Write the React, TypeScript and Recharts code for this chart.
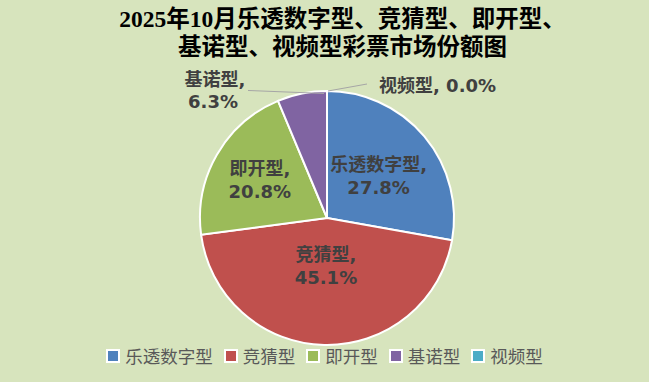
import React from 'react';
import { PieChart, Pie, Cell } from 'recharts';

// 2025年10月 各类型彩票市场份额
const categories = ['乐透数字型', '竞猜型', '即开型', '基诺型', '视频型'];
const shares = [27.8, 45.1, 20.8, 6.3, 0.0];

const COLORS = ['#4f81bd', '#c0504d', '#9bbb59', '#8064a2', '#4bacc6'];
const BG = '#d7e4bd';
const LABEL_FONT = '"DejaVu Sans", "Noto Sans CJK SC", sans-serif';

const data = categories.map((name, i) => ({ name, value: shares[i] }));

// inside labels: fraction of radius; outside ones use a leader line
const INSIDE_R = [0.53, 0.37, 0.61];

const RADIAN = Math.PI / 180;

const renderLabel = (props: any) => {
  const { cx, cy, midAngle, outerRadius, index } = props;
  const name = categories[index];
  const pct = shares[index].toFixed(1) + '%';
  const style = { fontFamily: LABEL_FONT, fontSize: 18, fontWeight: 700, fill: '#404040' };

  if (index < INSIDE_R.length) {
    const r = outerRadius * INSIDE_R[index];
    const x = cx + r * Math.cos(-midAngle * RADIAN);
    const y = cy + r * Math.sin(-midAngle * RADIAN);
    return (
      <text x={x} y={y} textAnchor="middle" style={style}>
        <tspan x={x} dy={-4}>{name},</tspan>
        <tspan x={x} dy={23}>{pct}</tspan>
      </text>
    );
  }

  // leader lines for the small slices
  const ex = cx + outerRadius * Math.cos(-midAngle * RADIAN);
  const ey = cy + outerRadius * Math.sin(-midAngle * RADIAN);
  if (index === 3) {
    const lx = ex - 54;
    const ly = ey - 3;
    return (
      <g>
        <line x1={ex + 22} y1={ey} x2={lx} y2={ly} stroke="#a6a6a6" strokeWidth={1} />
        <text x={lx - 33} y={ly} textAnchor="middle" style={style}>
          <tspan x={lx - 33} dy={-4}>{name},</tspan>
          <tspan x={lx - 35} dy={22}>{pct}</tspan>
        </text>
      </g>
    );
  }
  const lx = ex + 40;
  const ly = ey - 7;
  return (
    <g>
      <line x1={ex + 1} y1={ey} x2={lx} y2={ly} stroke="#a6a6a6" strokeWidth={1} />
      <text x={lx + 12} y={ly + 8} textAnchor="start" style={style}>
        {name}, {pct}
      </text>
    </g>
  );
};

export default function App() {
  if (typeof document !== 'undefined') document.body.style.margin = '0';

  return (
    <div style={{ position: 'relative', width: 649, height: 382, background: BG, overflow: 'hidden' }}>
      <div
        style={{
          position: 'absolute',
          top: 5,
          left: 36,
          width: 613,
          textAlign: 'center',
          fontFamily: '"Liberation Serif", "Noto Sans CJK SC", serif',
          fontWeight: 700,
          fontSize: 23.5,
          lineHeight: '28px',
          color: '#000',
        }}
      >
        <div>2025年10月乐透数字型、竞猜型、即开型、</div>
        <div>基诺型、视频型彩票市场份额图</div>
      </div>
      <PieChart
        width={649}
        height={382}
        margin={{ top: 0, right: 0, bottom: 0, left: 0 }}
        style={{ position: 'absolute', top: 0, left: 0 }}
      >
        <Pie
          data={data}
          dataKey="value"
          nameKey="name"
          cx={327}
          cy={218}
          outerRadius={127}
          startAngle={90}
          endAngle={-270}
          stroke="#ffffff"
          strokeWidth={2}
          label={renderLabel}
          labelLine={false}
          isAnimationActive={false}
        >
          {data.map((entry, index) => (
            <Cell key={`cell-${index}`} fill={COLORS[index]} />
          ))}
        </Pie>
      </PieChart>
      <div
        style={{
          position: 'absolute',
          top: 343,
          left: 0,
          width: 649,
          display: 'flex',
          justifyContent: 'center',
          gap: 11,
          fontFamily: '"Noto Sans CJK SC", sans-serif',
          fontSize: 17.5,
          color: '#595959',
        }}
      >
        {categories.map((c, i) => (
          <div key={c} style={{ display: 'flex', alignItems: 'center', gap: 5 }}>
            <span
              style={{
                display: 'inline-block',
                width: 10,
                height: 10,
                background: COLORS[i],
                border: '2px solid #ffffff',
              }}
            />
            <span>{c}</span>
          </div>
        ))}
      </div>
    </div>
  );
}
